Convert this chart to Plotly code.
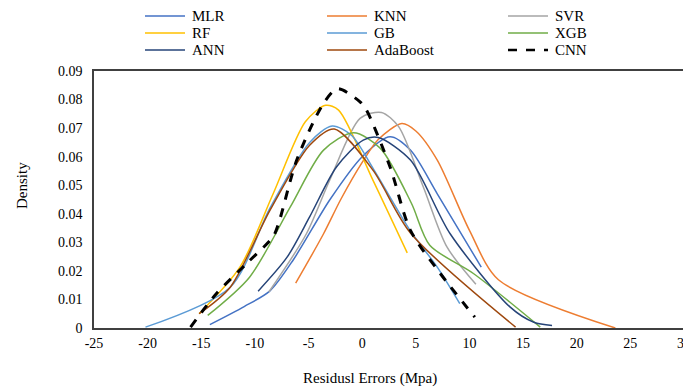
import plotly.graph_objects as go

# Residual errors (x) and density (y) per model
mlr_x = [-14.2, -11.0, -8.6, -6.4, -3.0, 0.0, 2.6, 4.5, 7.0, 11.1]
mlr_y = [0.0012, 0.0075, 0.013, 0.024, 0.045, 0.060, 0.067, 0.0623, 0.047, 0.0213]

knn_x = [-6.2, -3.6, -2.0, 0.0, 1.5, 3.7, 5.0, 7.0, 10.0, 12.7, 23.6]
knn_y = [0.0157, 0.033, 0.045, 0.058, 0.066, 0.0716, 0.069, 0.0588, 0.0342, 0.0169, 0.0]

svr_x = [-8.7, -5.2, -3.0, -0.2, 1.8, 3.4, 5.7, 7.9, 10.6]
svr_y = [0.0126, 0.033, 0.052, 0.0734, 0.0755, 0.0705, 0.0494, 0.0284, 0.0153]

rf_x = [-15.2, -11.4, -8.3, -5.3, -3.4, -2.2, 1.0, 4.2]
rf_y = [0.005, 0.0213, 0.047, 0.0722, 0.078, 0.0763, 0.0518, 0.0263]

gb_x = [-20.2, -12.3, -8.6, -4.9, -2.8, -1.0, 1.0, 4.5, 7.0, 9.1]
gb_y = [0.0003, 0.0143, 0.042, 0.065, 0.0707, 0.0675, 0.056, 0.034, 0.0213, 0.0085]

xgb_x = [-14.4, -10.5, -6.7, -3.6, -0.8, 1.7, 4.6, 6.3, 10.4, 16.6]
xgb_y = [0.0044, 0.0178, 0.0424, 0.0623, 0.0684, 0.0629, 0.0436, 0.029, 0.019, 0.0003]

ann_x = [-9.7, -7.0, -4.9, -2.4, 0.1, 1.5, 4.5, 8.2, 13.8, 16.0, 17.7]
ann_y = [0.0129, 0.0248, 0.0389, 0.0564, 0.0658, 0.0667, 0.0588, 0.033, 0.0073, 0.002, 0.0009]

ada_x = [-15.2, -12.3, -8.6, -4.9, -2.6, 1.0, 4.5, 14.3]
ada_y = [0.005, 0.0143, 0.0412, 0.064, 0.0697, 0.0553, 0.0333, 0.0003]

cnn_x = [-16.0, -13.6, -10.8, -8.3, -7.8, -6.1, -3.6, -2.3, -0.2, 0.4, 2.6, 4.5, 7.3, 10.5]
cnn_y = [0.0003, 0.012, 0.0225, 0.032, 0.0365, 0.0588, 0.0787, 0.0838, 0.0792, 0.0763, 0.0564, 0.0342, 0.019, 0.0038]

series_names = ["MLR", "KNN", "SVR", "RF", "GB", "XGB", "ANN", "AdaBoost", "CNN"]
series_x = [mlr_x, knn_x, svr_x, rf_x, gb_x, xgb_x, ann_x, ada_x, cnn_x]
series_y = [mlr_y, knn_y, svr_y, rf_y, gb_y, xgb_y, ann_y, ada_y, cnn_y]
series_colors = ["#4472C4", "#ED7D31", "#A5A5A5", "#FFC000", "#5B9BD5",
                 "#70AD47", "#264478", "#9E480E", "#000000"]
series_dash = ["solid"] * 8 + ["dash"]
series_width = [1.5] * 8 + [3]

# tick values and labels
x_tickvals = [-25, -20, -15, -10, -5, 0, 5, 10, 15, 20, 25, 30]
x_ticktext = ["-25", "-20", "-15", "-10", "-5", "0", "5", "10", "15", "20", "25", "30"]
y_tickvals = [0, 0.01, 0.02, 0.03, 0.04, 0.05, 0.06, 0.07, 0.08, 0.09]
y_ticktext = ["0", "0.01", "0.02", "0.03", "0.04", "0.05", "0.06", "0.07", "0.08", "0.09"]

# page body has an 8px margin: figure coordinates = screen coordinates - 8
OFF = 8
W, H = 691 - OFF, 387 - OFF
ML, MT = 94 - OFF, 71 - OFF
MR = W - (684 - OFF)
MB = H - (328 - OFF)
PW, PH = W - ML - MR, H - MT - MB
font_family = "Liberation Serif, Times New Roman, serif"

fig = go.Figure()
for name, xs, ys, color, dash, w in zip(series_names, series_x, series_y,
                                        series_colors, series_dash, series_width):
    fig.add_trace(go.Scatter(
        x=xs, y=ys, mode="lines", name=name, showlegend=False,
        line=dict(color=color, dash=dash, width=w, shape="spline", smoothing=0.8),
    ))


def px_to_paper_x(px):
    return (px - OFF - ML) / PW


def px_to_paper_y(py):
    return (H - MB - (py - OFF)) / PH


# Legend drawn as a 3x3 grid (row-major)
col_x = [145, 327, 508]
row_y = [16, 33, 50]
shapes = []
annotations = []
for i, name in enumerate(series_names):
    r, c = divmod(i, 3)
    x0 = col_x[c]
    y = row_y[r]
    shapes.append(dict(
        type="line", xref="paper", yref="paper",
        x0=px_to_paper_x(x0), x1=px_to_paper_x(x0 + 40),
        y0=px_to_paper_y(y), y1=px_to_paper_y(y),
        line=dict(color=series_colors[i], width=series_width[i] if i < 8 else 2.5,
                  dash="dash" if series_dash[i] == "dash" else "solid"),
    ))
    annotations.append(dict(
        text=name, xref="paper", yref="paper",
        x=px_to_paper_x(x0 + 45), y=px_to_paper_y(y),
        xanchor="left", yanchor="middle", showarrow=False,
        font=dict(family=font_family, size=15, color="#000000"),
    ))

# axis titles
annotations.append(dict(
    text="Residusl Errors (Mpa)", xref="paper", yref="paper",
    x=px_to_paper_x(370), y=px_to_paper_y(378), xanchor="center", yanchor="middle",
    showarrow=False, font=dict(family=font_family, size=15, color="#000000"),
))
annotations.append(dict(
    text="Density", xref="paper", yref="paper",
    x=px_to_paper_x(22), y=px_to_paper_y(186), xanchor="center", yanchor="middle",
    textangle=-90, showarrow=False,
    font=dict(family=font_family, size=15, color="#000000"),
))

fig.update_layout(
    width=W, height=H,
    margin=dict(l=ML, r=MR, t=MT, b=MB, autoexpand=False),
    paper_bgcolor="white", plot_bgcolor="white",
    font=dict(family=font_family, size=14, color="#000000"),
    showlegend=False,
    shapes=shapes, annotations=annotations,
    xaxis=dict(
        range=[-25, 30], tickmode="array", tickvals=x_tickvals, ticktext=x_ticktext,
        showgrid=False, zeroline=False,
        showline=True, linecolor="#404040", linewidth=1.5, mirror=True,
        ticks="", ticklabelstandoff=1,
        tickfont=dict(family=font_family, size=14),
    ),
    yaxis=dict(
        range=[0, 0.09], tickmode="array", tickvals=y_tickvals, ticktext=y_ticktext,
        showgrid=False, zeroline=False,
        showline=True, linecolor="#404040", linewidth=1.5, mirror=True,
        ticks="", ticklabelstandoff=7,
        tickfont=dict(family=font_family, size=14),
    ),
)

fig.write_html("out.html")
